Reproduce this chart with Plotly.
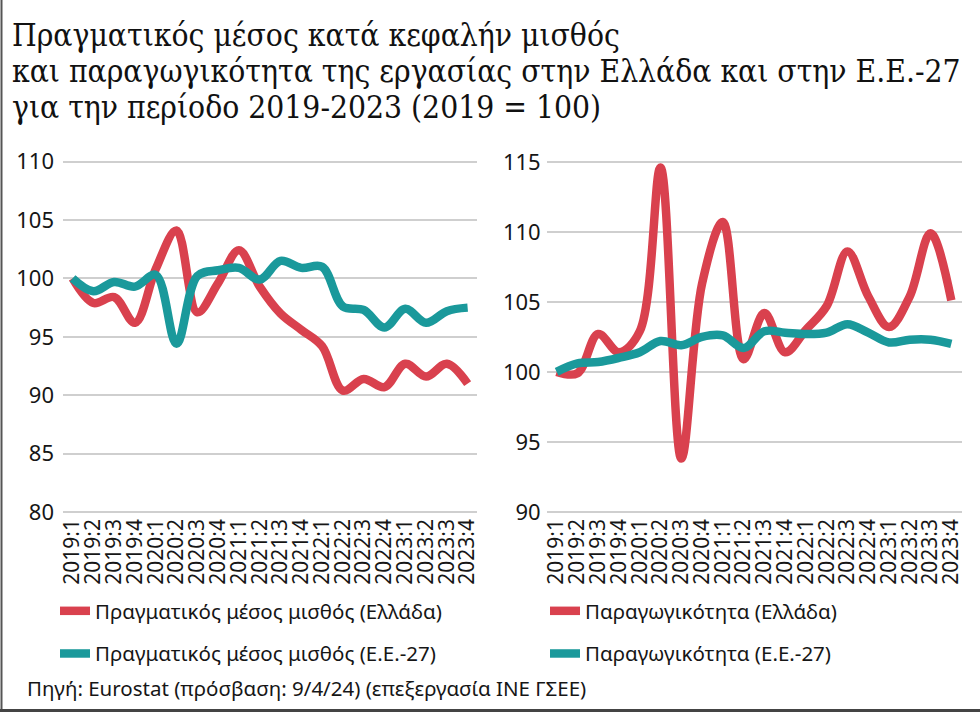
import plotly.graph_objects as go

quarters = ["2019:1", "2019:2", "2019:3", "2019:4",
            "2020:1", "2020:2", "2020:3", "2020:4",
            "2021:1", "2021:2", "2021:3", "2021:4",
            "2022:1", "2022:2", "2022:3", "2022:4",
            "2023:1", "2023:2", "2023:3", "2023:4"]

wage_greece = [100.0, 97.9, 98.4, 96.2, 100.8, 104.1, 97.1, 99.6, 102.4, 99.3,
               97.0, 95.6, 94.2, 90.4, 91.4, 90.7, 92.7, 91.6, 92.7, 91.0]
wage_eu27 = [100.0, 98.9, 99.7, 99.3, 100.3, 94.4, 100.2, 100.7, 100.9, 99.9,
             101.5, 100.9, 101.0, 97.6, 97.3, 95.8, 97.4, 96.2, 97.2, 97.5]

prod_greece = [100.0, 99.9, 102.7, 101.4, 102.9, 114.6, 93.8, 106.3, 110.7, 100.9,
               104.2, 101.4, 103.0, 104.7, 108.6, 105.4, 103.2, 105.4, 109.9, 105.1]
prod_eu27 = [100.0, 100.6, 100.7, 101.0, 101.4, 102.2, 101.9, 102.5, 102.6, 101.7,
             102.9, 102.8, 102.7, 102.8, 103.4, 102.8, 102.1, 102.3, 102.3, 102.0]

names_left = ["Πραγματικός μέσος μισθός (Ελλάδα)", "Πραγματικός μέσος μισθός (Ε.Ε.-27)"]
names_right = ["Παραγωγικότητα (Ελλάδα)", "Παραγωγικότητα (Ε.Ε.-27)"]

title_lines = ["Πραγματικός μέσος κατά κεφαλήν μισθός",
               "και παραγωγικότητα της εργασίας στην Ελλάδα και στην Ε.Ε.-27",
               "για την περίοδο 2019-2023 (2019 = 100)"]
source_text = "Πηγή: Eurostat (πρόσβαση: 9/4/24) (επεξεργασία ΙΝΕ ΓΣΕΕ)"

RED = "#D9414E"
TEAL = "#1A999B"
W, H = 980, 712
FONT = "Noto Sans, Lato, DejaVu Sans, sans-serif"
TXT = "#161616"

fig = go.Figure()

def add(x, y, name, color, xa, ya, leg, grp):
    fig.add_trace(go.Scatter(
        x=x, y=y, name=name, mode="lines",
        line=dict(color=color, width=8.5, shape="spline", smoothing=1.0),
        xaxis=xa, yaxis=ya, legend=leg, legendgroup=grp,
        hoverinfo="skip"))

add(quarters, wage_greece, names_left[0], RED, "x", "y", "legend", "a")
add(quarters, wage_eu27, names_left[1], TEAL, "x", "y", "legend", "b")
add(quarters, prod_greece, names_right[0], RED, "x2", "y2", "legend2", "c")
add(quarters, prod_eu27, names_right[1], TEAL, "x2", "y2", "legend2", "d")

ydom = [1 - 513.9 / H, 1 - 159.8 / H]

xcommon = dict(type="category", tickangle=-90, showgrid=False, showline=False,
               tickmode="array", tickvals=quarters, ticktext=quarters,
               ticks="", tickfont=dict(family=FONT, size=21, color=TXT),
               zeroline=False, fixedrange=True, automargin=False)
ycommon = dict(showgrid=True, gridcolor="#cfcfcf", gridwidth=1.5, showline=False,
               ticks="", zeroline=False, tickfont=dict(family=FONT, size=22, color=TXT),
               fixedrange=True, automargin=False)

legfont = dict(family=FONT, size=20.5, color=TXT)

fig.update_layout(
    width=W, height=H,
    margin=dict(l=0, r=0, t=0, b=0, autoexpand=False),
    paper_bgcolor="white", plot_bgcolor="white",
    showlegend=True,
    xaxis=dict(domain=[63 / W, 477 / W], range=[-0.46, 19.45], anchor="y", **xcommon),
    yaxis=dict(domain=ydom, range=[79.85, 110.15], tickvals=[80, 85, 90, 95, 100, 105, 110],
               anchor="x", ticklabelstandoff=8, **ycommon),
    xaxis2=dict(domain=[546.7 / W, 961.7 / W], range=[-0.48, 19.5], anchor="y2", **xcommon),
    yaxis2=dict(domain=ydom, range=[89.85, 115.15], tickvals=[90, 95, 100, 105, 110, 115],
                anchor="x2", ticklabelstandoff=5, **ycommon),
    legend=dict(x=55 / W, y=1 - 591 / H, xanchor="left", yanchor="top",
                traceorder="grouped", tracegroupgap=13, itemwidth=30,
                font=legfont, bgcolor="rgba(0,0,0,0)"),
    legend2=dict(x=545 / W, y=1 - 591 / H, xanchor="left", yanchor="top",
                 traceorder="grouped", tracegroupgap=13, itemwidth=30,
                 font=legfont, bgcolor="rgba(0,0,0,0)"),
)

TFONT = "DejaVu Serif Condensed, DejaVu Serif, serif"
for i, line in enumerate(title_lines):
    fig.add_annotation(
        xref="paper", yref="paper", x=10 / W, y=1 - (35 + 36 * i) / H,
        xanchor="left", yanchor="middle",
        text=line, showarrow=False, align="left",
        font=dict(family=TFONT, size=31.5, color="#111"))

fig.add_annotation(
    xref="paper", yref="paper", x=25 / W, y=1 - 688 / H, xanchor="left", yanchor="middle",
    text=source_text, showarrow=False, align="left",
    font=dict(family=FONT, size=20.5, color=TXT))

# frame
fig.add_shape(type="line", xref="paper", yref="paper", x0=1.5 / W, x1=1.5 / W, y0=0, y1=1,
              line=dict(color="#555", width=2))
fig.add_shape(type="line", xref="paper", yref="paper", x0=0, x1=1, y0=1.5 / H, y1=1.5 / H,
              line=dict(color="#444", width=3))

fig.write_html("out.html")
